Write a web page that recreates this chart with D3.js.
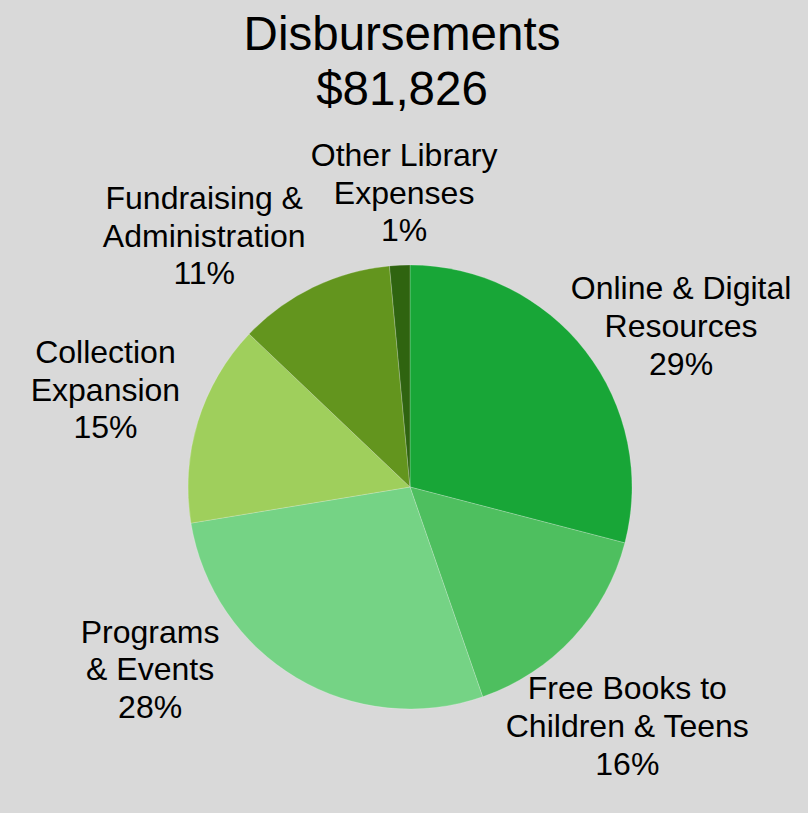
<!DOCTYPE html>
<html>
<head>
<meta charset="utf-8">
<script src="https://cdn.jsdelivr.net/npm/d3@7"></script>
<style>
  html, body { margin: 0; padding: 0; background: #d9d9d9; }
  svg { display: block; }
  text { font-family: "Liberation Sans", Arial, sans-serif; fill: #000; }
</style>
</head>
<body>
<script>
// ---- data ----
const titleLines = ["Disbursements", "$81,826"];
const categories = [
  ["Online & Digital", "Resources"],
  ["Free Books to", "Children & Teens"],
  ["Programs", "& Events"],
  ["Collection", "Expansion"],
  ["Fundraising &", "Administration"],
  ["Other Library", "Expenses"]
];
const amounts = [23770, 12800, 22670, 12030, 9350, 1206];
const colors = ["#18a637", "#4ebf5f", "#75d385", "#9fcf5c", "#63951e", "#2f6410"];

// ---- label layout (angular nudge in degrees, distance from centre) ----
const labelNudge = [7.4, 5.3, 23.8, 0.2, -13.7, 1.5];
const labelDist = [314, 325, 319, 319, 323, 292];

const W = 808, H = 813;
const cx = 410, cy = 487, R = 222;

const svg = d3.select("body").append("svg")
  .attr("width", W).attr("height", H);
svg.append("rect").attr("width", W).attr("height", H).attr("fill", "#d9d9d9");

// title
const title = svg.append("text")
  .attr("x", 402).attr("y", 50)
  .attr("text-anchor", "middle")
  .style("font-size", "47.5px");
titleLines.forEach((t, i) => {
  title.append("tspan").attr("x", 402).attr("dy", i === 0 ? 0 : 55).text(t);
});

const total = d3.sum(amounts);
const data = amounts.map((v, i) => ({ value: v, i }));

const pie = d3.pie().value(d => d.value).sort(null);
const arcs = pie(data);
const arc = d3.arc().innerRadius(0).outerRadius(R);

const g = svg.append("g").attr("transform", `translate(${cx},${cy})`);

g.selectAll("path").data(arcs).join("path")
  .attr("d", arc)
  .attr("fill", d => colors[d.data.i])
  .attr("stroke", "rgba(255,255,255,0.35)")
  .attr("stroke-width", 0.6);

// labels
g.selectAll("text.lbl").data(arcs).join("text")
  .attr("class", "lbl")
  .attr("text-anchor", "middle")
  .style("font-size", "32px")
  .each(function (d) {
    const i = d.data.i;
    const mid = (d.startAngle + d.endAngle) / 2 + labelNudge[i] * Math.PI / 180;
    const [x, y] = d3.pointRadial(mid, labelDist[i]);
    const lines = categories[i].concat([Math.round(d.data.value / total * 100) + "%"]);
    const t = d3.select(this);
    const lh = 37.8;
    lines.forEach((s, k) => {
      t.append("tspan")
        .attr("x", x)
        .attr("y", y + (k - 1) * lh + 8.5)
        .text(s);
    });
  });
</script>
</body>
</html>
